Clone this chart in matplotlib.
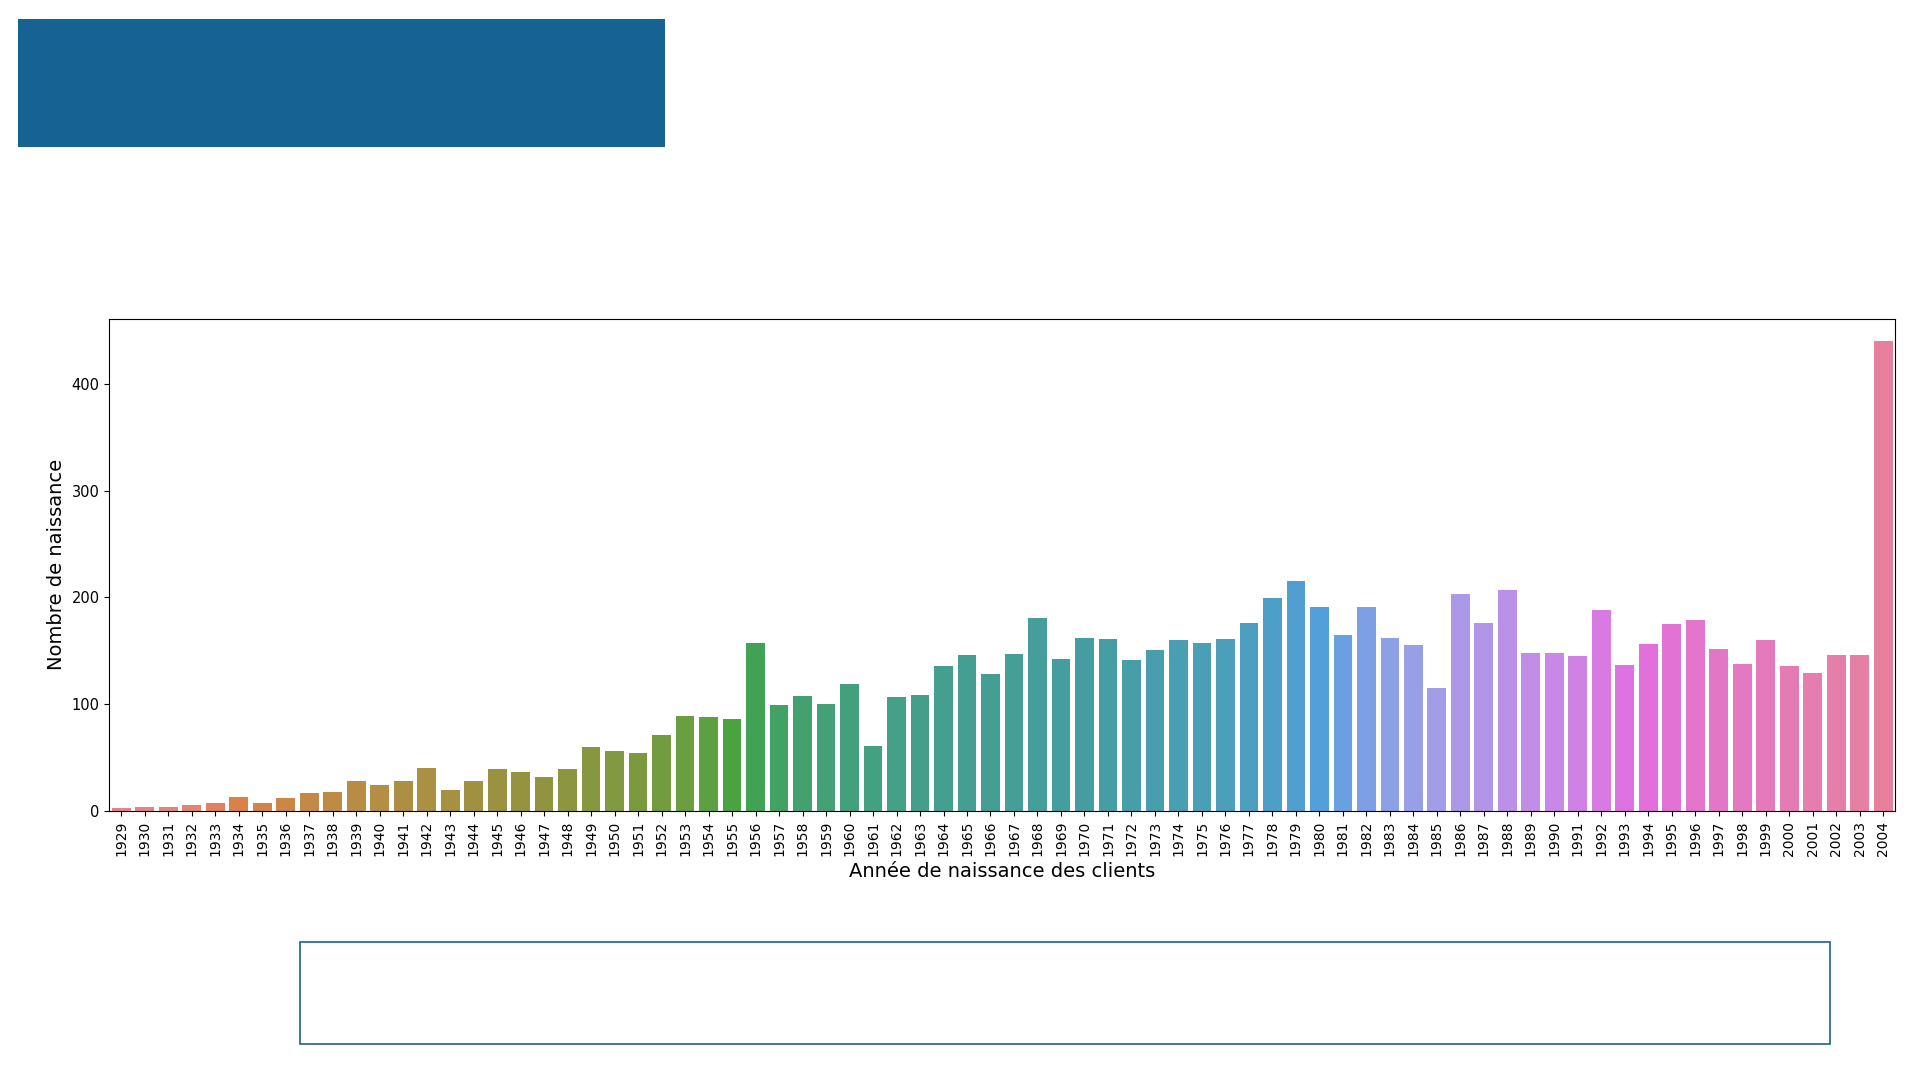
import matplotlib
matplotlib.use("Agg")
import matplotlib.pyplot as plt
from matplotlib.patches import Rectangle
import seaborn as sns

years = list(range(1929, 2005))
births = [3, 4, 4, 6, 8, 13, 8, 12, 17, 18,
          28, 24, 28, 40, 20, 28, 39, 37, 32, 39,
          60, 56, 54, 71, 89, 88, 86, 157, 99, 108,
          100, 119, 61, 107, 109, 136, 146, 128, 147, 181,
          142, 162, 161, 141, 151, 160, 157, 161, 176, 199,
          215, 191, 165, 191, 162, 155, 115, 203, 176, 207,
          148, 148, 145, 188, 137, 156, 175, 179, 152, 138,
          160, 136, 129, 146, 146, 440]

colors = sns.color_palette("husl", len(years), desat=0.75)

fig = plt.figure(figsize=(19.2, 10.8), dpi=100)

# header block and caption frame
fig.patches.append(Rectangle((0.0096, 0.864), 0.337, 0.118, transform=fig.transFigure,
                             facecolor="#156293", edgecolor="none"))
fig.patches.append(Rectangle((0.156, 0.033), 0.797, 0.095, transform=fig.transFigure,
                             facecolor="none", edgecolor="#156293", linewidth=1.2))

ax = fig.add_axes([0.057, 0.249, 0.93, 0.456])
ax.bar(range(len(years)), births, width=0.8, color=colors)
ax.set_xlim(-0.5, len(years) - 0.5)
ax.set_ylim(0, 461)
ax.set_xticks(range(len(years)))
ax.set_xticklabels([str(y) for y in years], rotation=90, fontsize=10)
ax.set_yticks([0, 100, 200, 300, 400])
ax.tick_params(axis="y", labelsize=10.5)
ax.set_xlabel("Année de naissance des clients", fontsize=14)
ax.set_ylabel("Nombre de naissance", fontsize=14)

fig.savefig("out.png", dpi=100)
